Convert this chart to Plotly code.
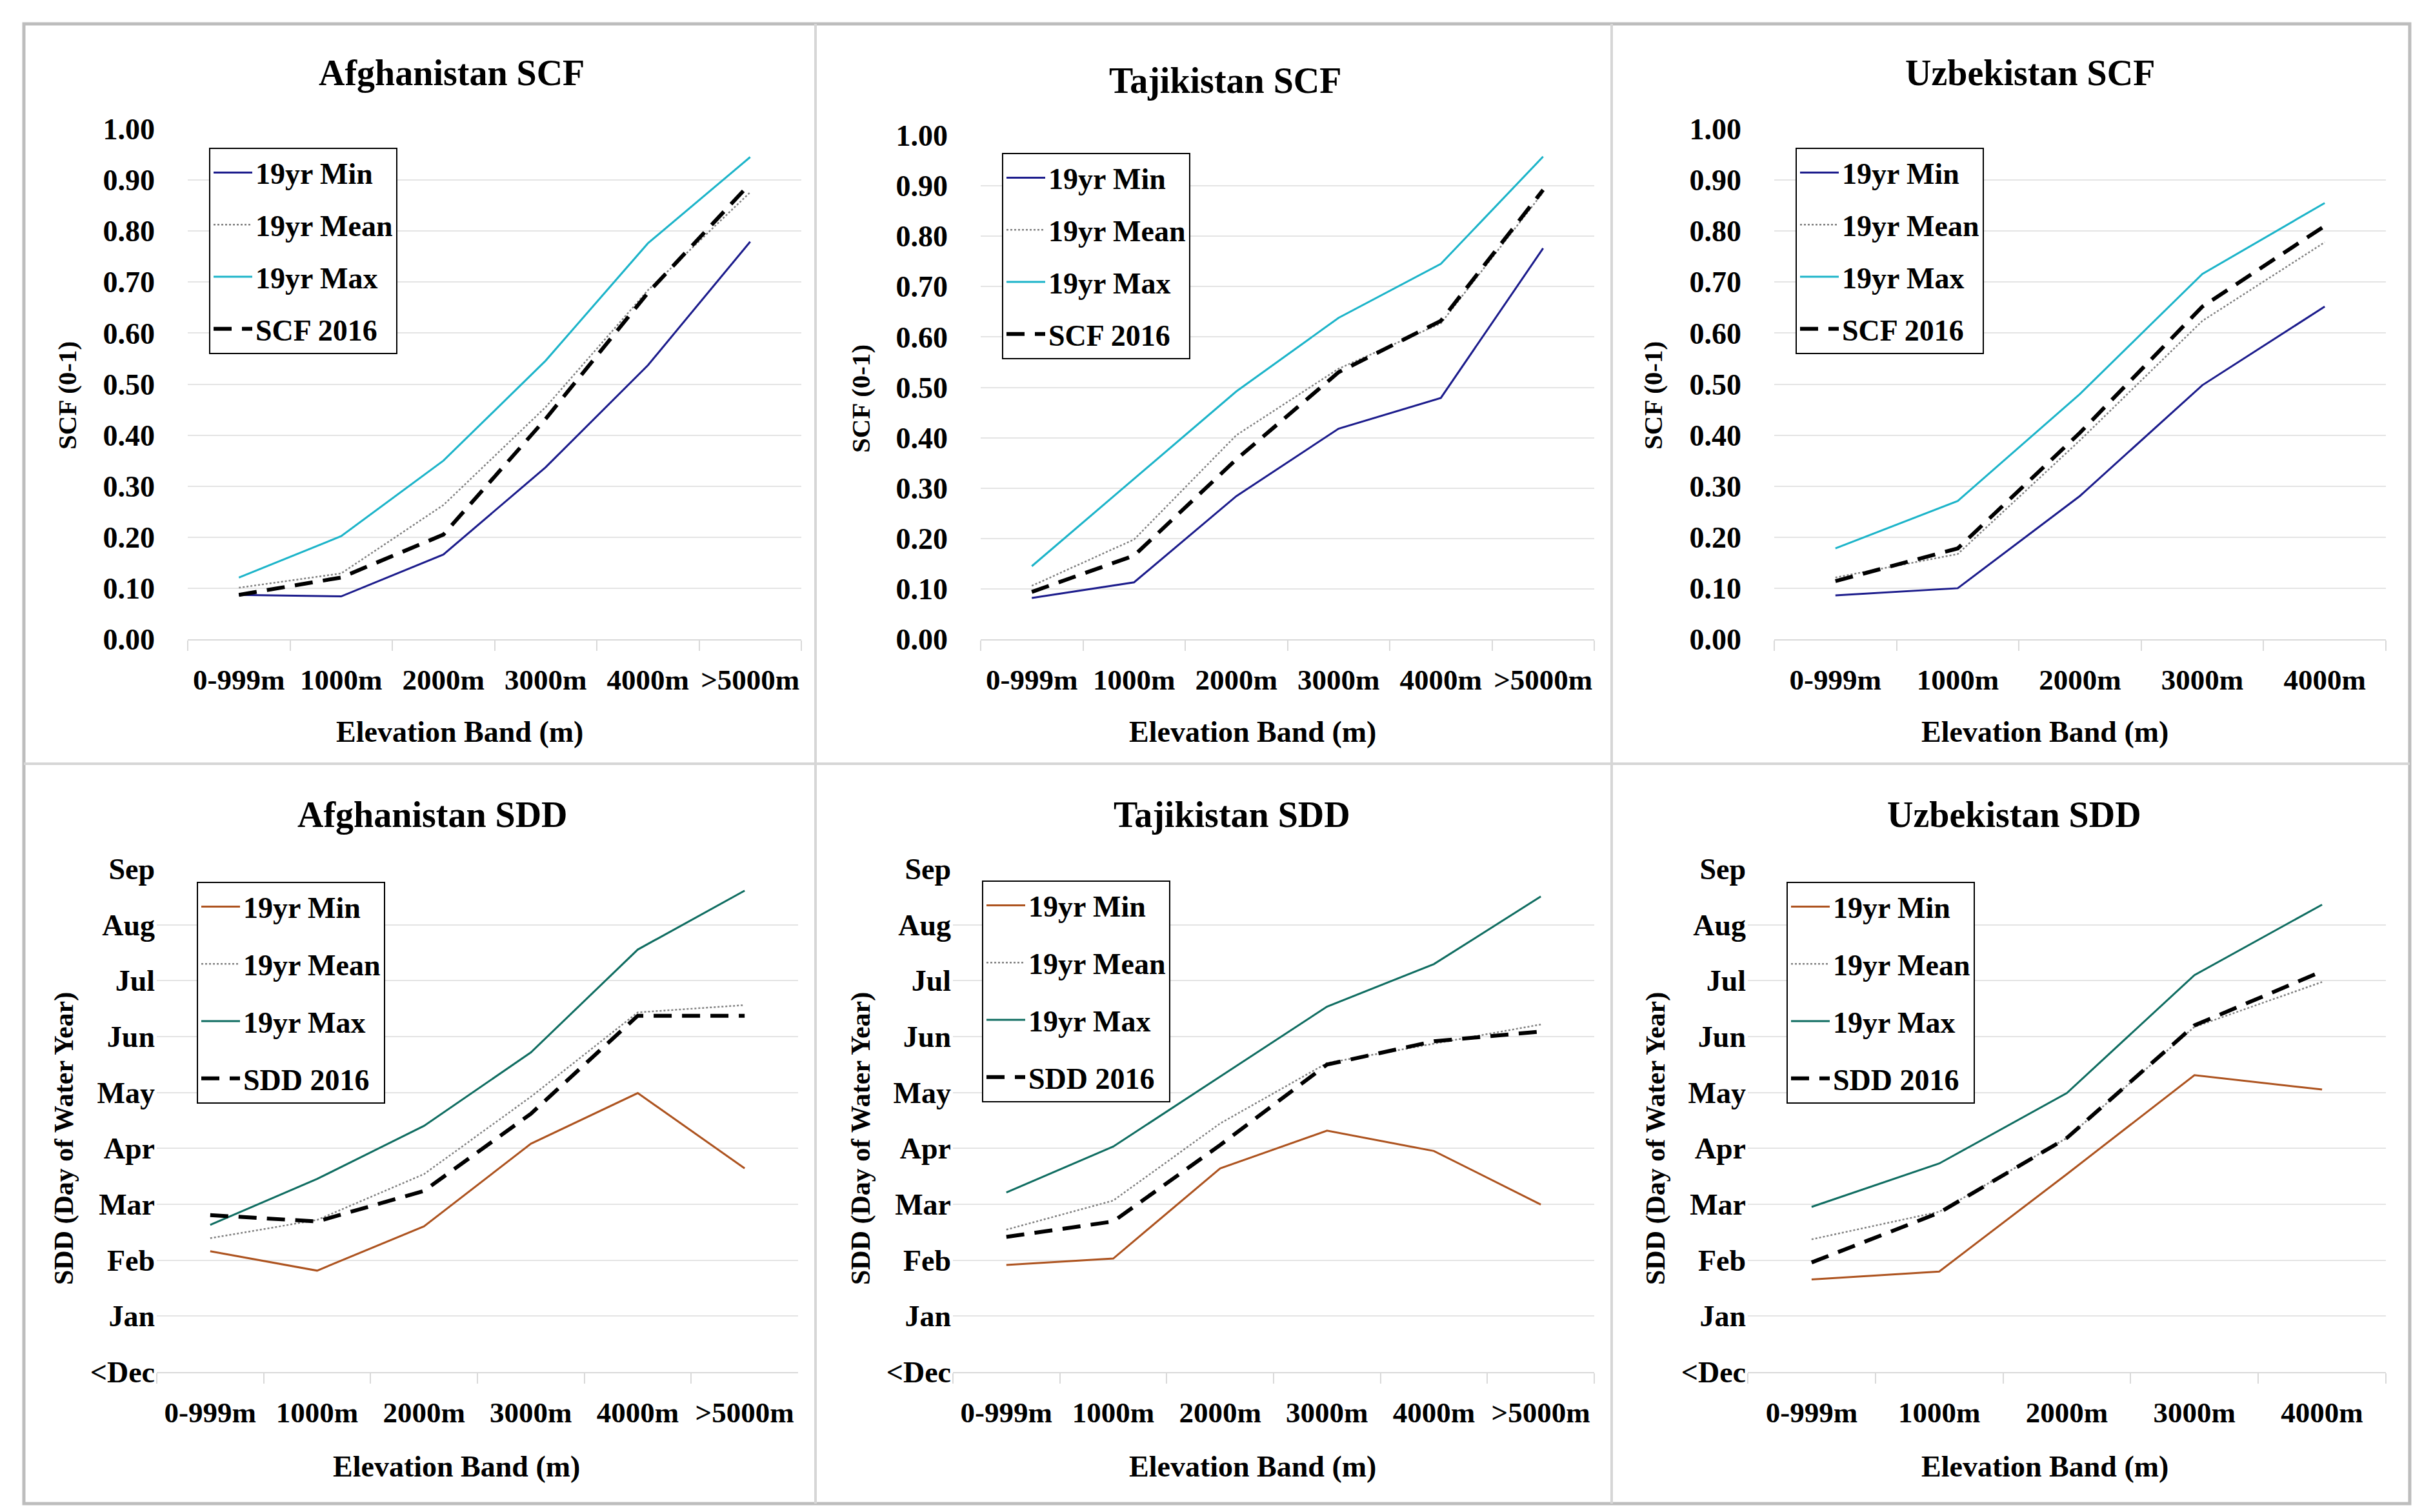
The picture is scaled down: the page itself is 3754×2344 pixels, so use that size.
import plotly.graph_objects as go

# ---------------- DATA ----------------
cats6 = ["0-999m", "1000m", "2000m", "3000m", "4000m", ">5000m"]
cats5 = ["0-999m", "1000m", "2000m", "3000m", "4000m"]
series_names_scf = ["19yr Min", "19yr Mean", "19yr Max", "SCF 2016"]
series_names_sdd = ["19yr Min", "19yr Mean", "19yr Max", "SDD 2016"]

# Snow cover fraction (0-1)
afg_scf_min = [0.087, 0.084, 0.166, 0.337, 0.537, 0.779]
afg_scf_mean = [0.101, 0.129, 0.263, 0.455, 0.684, 0.876]
afg_scf_max = [0.121, 0.202, 0.350, 0.546, 0.776, 0.945]
afg_scf_2016 = [0.087, 0.121, 0.205, 0.432, 0.679, 0.893]

taj_scf_min = [0.082, 0.113, 0.284, 0.418, 0.479, 0.776]
taj_scf_mean = [0.106, 0.198, 0.405, 0.537, 0.627, 0.887]
taj_scf_max = [0.145, 0.318, 0.492, 0.638, 0.745, 0.958]
taj_scf_2016 = [0.094, 0.166, 0.357, 0.530, 0.632, 0.892]

uzb_scf_min = [0.086, 0.100, 0.281, 0.498, 0.652]
uzb_scf_mean = [0.121, 0.167, 0.390, 0.624, 0.778]
uzb_scf_max = [0.178, 0.271, 0.481, 0.716, 0.855]
uzb_scf_2016 = [0.114, 0.178, 0.405, 0.652, 0.810]

# Snow disappearance date (day of water year)
afg_sdd_min = [124.8, 114.4, 138.2, 182.5, 209.7, 169.3]
afg_sdd_mean = [131.8, 141.6, 166.2, 207.7, 253.0, 256.9]
afg_sdd_max = [139.0, 163.6, 192.1, 231.5, 286.7, 318.3]
afg_sdd_2016 = [144.2, 140.8, 157.2, 198.6, 251.2, 251.2]

taj_sdd_min = [117.5, 120.9, 169.3, 189.5, 178.6, 149.9]
taj_sdd_mean = [136.4, 152.0, 193.4, 225.8, 236.2, 246.5]
taj_sdd_max = [156.4, 181.0, 218.5, 256.1, 278.9, 315.2]
taj_sdd_2016 = [132.5, 140.8, 181.8, 225.0, 237.5, 242.7]

uzb_sdd_min = [109.7, 113.9, 166.2, 219.3, 211.6]
uzb_sdd_mean = [131.2, 146.0, 185.6, 245.2, 269.3]
uzb_sdd_max = [148.6, 171.9, 209.7, 273.0, 310.8]
uzb_sdd_2016 = [118.8, 145.5, 185.6, 246.0, 275.0]

scf_ticks = [0.0, 0.1, 0.2, 0.3, 0.4, 0.5, 0.6, 0.7, 0.8, 0.9, 1.0]
sdd_tickvals = [60, 90, 120, 150, 180, 210, 240, 270, 300, 330]
sdd_ticktext = ["<Dec", "Jan", "Feb", "Mar", "Apr", "May", "Jun", "Jul", "Aug", "Sep"]

titles = ["Afghanistan SCF", "Tajikistan SCF", "Uzbekistan SCF",
          "Afghanistan SDD", "Tajikistan SDD", "Uzbekistan SDD"]

# ---------------- LAYOUT / STYLE ----------------
W, H = 3754, 2344
FONT = "Liberation Serif"


def fx(p):
    return p / W


def fy(p):
    return 1 - p / H


panels = [
    dict(cats=cats6, vals=[afg_scf_min, afg_scf_mean, afg_scf_max, afg_scf_2016], kind="scf",
         xd=(283, 1234), yd=(192, 983), leg=(316, 221), tpos=(692, 105), xt=(704, 1126), yt=(96, 605)),
    dict(cats=cats6, vals=[taj_scf_min, taj_scf_mean, taj_scf_max, taj_scf_2016], kind="scf",
         xd=(1512, 2463), yd=(202, 983), leg=(1545, 229), tpos=(1891, 117), xt=(1933, 1126), yt=(1326, 610)),
    dict(cats=cats5, vals=[uzb_scf_min, uzb_scf_mean, uzb_scf_max, uzb_scf_2016], kind="scf",
         xd=(2742, 3690), yd=(192, 983), leg=(2775, 221), tpos=(3138, 105), xt=(3161, 1126), yt=(2554, 605)),
    dict(cats=cats6, vals=[afg_sdd_min, afg_sdd_mean, afg_sdd_max, afg_sdd_2016], kind="sdd",
         xd=(235, 1229), yd=(1339, 2119), leg=(297, 1359), tpos=(662, 1255), xt=(699, 2265), yt=(91, 1757)),
    dict(cats=cats6, vals=[taj_sdd_min, taj_sdd_mean, taj_sdd_max, taj_sdd_2016], kind="sdd",
         xd=(1469, 2463), yd=(1339, 2119), leg=(1514, 1357), tpos=(1901, 1255), xt=(1933, 2265), yt=(1326, 1757)),
    dict(cats=cats5, vals=[uzb_sdd_min, uzb_sdd_mean, uzb_sdd_max, uzb_sdd_2016], kind="sdd",
         xd=(2701, 3690), yd=(1339, 2119), leg=(2761, 1359), tpos=(3114, 1255), xt=(3161, 2265), yt=(2558, 1757)),
]

styles_scf = [
    dict(color="#1c1c8c", width=3, dash="solid"),
    dict(color="#808080", width=2.5, dash="dot"),
    dict(color="#1cb4c9", width=3, dash="solid"),
    dict(color="#000000", width=6, dash="28px,16px"),
]
styles_sdd = [
    dict(color="#ad531f", width=3, dash="solid"),
    dict(color="#808080", width=2.5, dash="dot"),
    dict(color="#0f6d61", width=3, dash="solid"),
    dict(color="#000000", width=6, dash="28px,16px"),
]

fig = go.Figure()
layout = dict(
    width=W, height=H, autosize=False,
    margin=dict(l=0, r=0, t=0, b=0, autoexpand=False),
    paper_bgcolor="white", plot_bgcolor="white",
    font=dict(family=FONT, color="black", size=44, weight=700),
    annotations=[], shapes=[],
)

for i, p in enumerate(panels, start=1):
    sfx = "" if i == 1 else str(i)
    names = series_names_scf if p["kind"] == "scf" else series_names_sdd
    styles = styles_scf if p["kind"] == "scf" else styles_sdd
    legname = "legend" if i == 1 else f"legend{i}"
    for j, (nm, v, st) in enumerate(zip(names, p["vals"], styles)):
        fig.add_trace(go.Scatter(
            x=p["cats"], y=v, mode="lines", name=nm,
            xaxis=f"x{sfx}", yaxis=f"y{sfx}",
            legend=legname, legendgroup=f"p{i}s{j}",
            line=dict(color=st["color"], width=st["width"], dash=st["dash"]),
        ))

    n = len(p["cats"])
    layout[f"xaxis{sfx}"] = dict(
        domain=[fx(p["xd"][0]), fx(p["xd"][1])], anchor=f"y{sfx}",
        type="category", categoryorder="array", categoryarray=p["cats"],
        range=[-0.5, n - 0.5], automargin=False,
        showgrid=False, zeroline=False,
        showline=True, linecolor="#d9d9d9", linewidth=2,
        ticks="outside", tickson="boundaries", ticklen=16, tickwidth=2, tickcolor="#d9d9d9",
        tickangle=0,
        tickfont=dict(family=FONT, size=45, color="black", weight=700),
        ticklabelstandoff=22, fixedrange=True,
    )
    if p["kind"] == "scf":
        yax = dict(range=[0, 1.0], tickvals=scf_ticks, tickformat=".2f")
    else:
        yax = dict(range=[60, 330], tickvals=sdd_tickvals, ticktext=sdd_ticktext)
    yax.update(
        domain=[fy(p["yd"][1]), fy(p["yd"][0])], anchor=f"x{sfx}", automargin=False,
        showgrid=True, gridcolor="#e4e4e4", gridwidth=2, zeroline=False,
        showline=False, ticks="",
        tickfont=dict(family=FONT, size=46, color="black", weight=700),
        ticklabelstandoff=50 if p["kind"] == "scf" else 2, fixedrange=True,
    )
    layout[f"yaxis{sfx}"] = yax

    layout[legname] = dict(
        x=fx(p["leg"][0]), y=fy(p["leg"][1]), xanchor="left", yanchor="top",
        bordercolor="black", borderwidth=2, bgcolor="white",
        font=dict(family=FONT, size=46, color="black", weight=700),
        traceorder="grouped", tracegroupgap=18 if p["kind"] == "scf" else 26,
        itemwidth=60,
    )

    layout["annotations"].append(dict(
        text=titles[i - 1], xref="paper", yref="paper",
        x=fx(p["tpos"][0]), y=fy(p["tpos"][1]), xanchor="center", yanchor="middle",
        showarrow=False, font=dict(family=FONT, size=56, color="black", weight=700)))
    layout["annotations"].append(dict(
        text="Elevation Band (m)", xref="paper", yref="paper",
        x=fx(p["xt"][0]), y=fy(p["xt"][1]), xanchor="center", yanchor="middle",
        showarrow=False, font=dict(family=FONT, size=46, color="black", weight=700)))
    layout["annotations"].append(dict(
        text="SCF (0-1)" if p["kind"] == "scf" else "SDD (Day of Water Year)",
        xref="paper", yref="paper", textangle=-90,
        x=fx(p["yt"][0]), y=fy(p["yt"][1]), xanchor="center", yanchor="middle",
        showarrow=False,
        font=dict(family=FONT, size=41 if p["kind"] == "scf" else 42, color="black", weight=700)))

# panel frames
layout["shapes"].append(dict(type="rect", xref="paper", yref="paper",
                             x0=fx(29), x1=fx(3727), y0=fy(2323), y1=fy(29),
                             line=dict(color="#bdbdbd", width=5)))
for vx in (1256, 2490):
    layout["shapes"].append(dict(type="line", xref="paper", yref="paper",
                                 x0=fx(vx), x1=fx(vx), y0=fy(2323), y1=fy(29),
                                 line=dict(color="#d6d6d6", width=4)))
layout["shapes"].append(dict(type="line", xref="paper", yref="paper",
                             x0=fx(29), x1=fx(3727), y0=fy(1176), y1=fy(1176),
                             line=dict(color="#d6d6d6", width=4)))

fig.update_layout(**layout)
fig.write_html("out.html")
